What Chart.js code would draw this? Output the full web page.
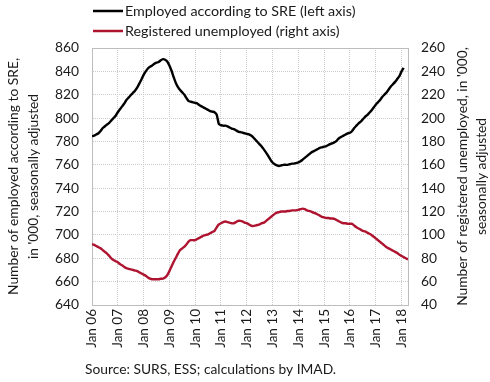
<!DOCTYPE html>
<html>
<head>
<meta charset="utf-8">
<script src="https://cdn.jsdelivr.net/npm/chart.js@4.4.1/dist/chart.umd.min.js"></script>
<style>
html,body{margin:0;padding:0;background:#fff;}
#wrap{width:490px;height:382px;position:relative;}
</style>
</head>
<body>
<div id="wrap"><canvas id="c" width="490" height="382"></canvas></div>
<script>
// Tick labels for x axis (each January)
const yearLabels = ["Jan 06","Jan 07","Jan 08","Jan 09","Jan 10","Jan 11","Jan 12","Jan 13","Jan 14","Jan 15","Jan 16","Jan 17","Jan 18"];
// Employed according to SRE, '000, monthly from Jan 2006 (left axis)
const employed = [
  784.5,785,786,787,789,791.5,793,794.5,796,798,800,802,
  805,807.5,810,812.5,815.5,817.5,819.5,821.5,823.5,826,829.5,833,
  837,840,842.5,844,845,846.5,847.5,848,849.5,850.5,850,848.5,
  845,840.5,835,830,826.5,824,822,820,817,814.5,814,813.5,
  813,812.5,811,810,809,808,807,806,805.5,805,803,795,
  794,793.5,793.5,793,792,791,790.5,789.5,788.5,788,787.5,787,
  786.5,786,785,783.5,781.5,779.5,777.5,775.5,773,770.5,767.5,764.5,
  762,760.5,759.5,759,759.5,760,760,760,760.5,761,761,761.5,
  762,763,764.5,766,767.5,769,770.5,771.5,772.5,773.5,774.5,775,
  775.5,776,777,778,778.5,779.5,781,783,784,785,786,787,
  787.5,789,791.5,793.5,795.5,797,799,801,802.5,804.5,806.5,809,
  811.5,813.5,815.5,818,820,822,824.5,827,829,831,833.5,836,
  840,843
];
// Registered unemployed, '000, monthly from Jan 2006 (right axis)
const unemployed = [
  92,91.5,90.5,89.5,88.5,87,85.5,84,82,80,78.5,77.5,
  76.5,75,74,72.5,71.5,71,70.5,70,69.5,69,68,67,
  66,65,63.5,62.5,62,62,62,62,62.5,62.5,63.5,65.5,
  69,73,77,80.5,84,87,88.5,90,92,94.5,95.5,95.5,
  95.5,96.5,97.5,98.5,99.5,100,100.5,101.5,102.5,103.5,106.5,109,
  110,111,111.5,111,110.5,110,110,111,112,112,111.5,110.5,
  110,109,108,107.5,108,108.5,109,110,110.5,112,113.5,115,
  116.5,118,119,119.5,120,120,120,120.5,120.5,121,121,121,
  121.5,122,122.5,122,121,120.5,120,119,118.5,117.5,116.5,115.5,
  115,114.5,114.5,114,114,113.5,112.5,111.5,110.5,110,110,109.5,
  109.5,109.5,108,106.5,105.5,104.5,103.5,103,102,101,100,98.5,
  97,95.5,94,92.5,91,89.5,88.5,87.5,86.5,85.5,84.5,83,
  82,81,80,79
];
const seriesNames = ["Employed according to SRE (left axis)","Registered unemployed (right axis)"];
const leftTitle = ["Number of employed according to SRE,","in '000, seasonally adjusted"];
const rightTitle = ["Number of registered unemployed, in '000,","seasonally adjusted"];
const sourceText = "Source: SURS, ESS; calculations by IMAD.";

const FONT = "Lato, 'Open Sans', sans-serif";
const RED = '#ae1430';
const GRID = '#cccccc';
const BORDER = '#bdbdbd';

const toPts = arr => arr.map((v,i)=>({x:i,y:v}));

const decor = {
  id:'decor',
  afterDatasetsDraw(chart){
    const {ctx, chartArea:a} = chart;
    ctx.save();
    ctx.strokeStyle = BORDER; ctx.lineWidth = 1;
    ctx.beginPath(); ctx.moveTo(a.left, a.top+0.5); ctx.lineTo(a.right, a.top+0.5); ctx.stroke();
    ctx.restore();
  },
  afterDraw(chart){
    const {ctx, chartArea:a} = chart;
    ctx.save();
    ctx.fillStyle = '#1a1a1a';
    ctx.textBaseline = 'middle';
    // legend
    ctx.font = "14.3px " + FONT;
    const lg = [[seriesNames[0],'#000',11],[seriesNames[1],RED,31]];
    lg.forEach(([t,c,y])=>{
      ctx.strokeStyle = c; ctx.lineWidth = 2.5;
      ctx.beginPath(); ctx.moveTo(93,y); ctx.lineTo(123,y); ctx.stroke();
      ctx.fillStyle = '#1a1a1a'; ctx.textAlign='left';
      ctx.fillText(t,125,y);
    });
    // axis titles
    ctx.font = "13.8px " + FONT;
    const cy = (a.top+a.bottom)/2;
    const drawV = (lines,xs)=>{
      lines.forEach((t,i)=>{
        ctx.save(); ctx.translate(xs[i],cy); ctx.rotate(-Math.PI/2);
        ctx.textAlign='center'; ctx.fillText(t,0,0); ctx.restore();
      });
    };
    drawV(leftTitle,[14,34]);
    drawV(rightTitle,[463,482]);
    // source
    ctx.font = "13.8px " + FONT;
    ctx.textAlign='left';
    ctx.fillText(sourceText,85,370);
    ctx.restore();
  }
};

new Chart(document.getElementById('c'),{
  type:'line',
  data:{
    datasets:[
      {label:seriesNames[0],data:toPts(employed),yAxisID:'yL',borderColor:'#000',borderWidth:2.4,pointRadius:0,tension:0.2,fill:false},
      {label:seriesNames[1],data:toPts(unemployed),yAxisID:'yR',borderColor:RED,borderWidth:2.4,pointRadius:0,tension:0.2,fill:false}
    ]
  },
  options:{
    responsive:false,
    animation:false,
    layout:{padding:{top:48,left:0,right:0,bottom:0}},
    plugins:{legend:{display:false},tooltip:{enabled:false}},
    scales:{
      x:{
        type:'linear',min:0,max:147,
        afterFit(s){s.height=77;},
        ticks:{stepSize:12,includeBounds:false,autoSkip:false,maxRotation:90,minRotation:90,padding:4,
          color:'#1a1a1a',font:{family:FONT,size:13.5},
          callback:(v)=>yearLabels[v/12]},
        grid:{color:GRID,lineWidth:1,drawTicks:false},
        border:{display:true,color:BORDER,dash:[1,1]}
      },
      yL:{
        position:'left',min:640,max:860,
        afterFit(s){s.width=92;},
        ticks:{stepSize:20,padding:13,color:'#1a1a1a',font:{family:FONT,size:13.8}},
        grid:{color:GRID,lineWidth:1,drawTicks:false},
        border:{display:true,color:BORDER,dash:[1,1]}
      },
      yR:{
        position:'right',min:40,max:260,
        afterFit(s){s.width=82;},
        ticks:{stepSize:20,padding:13,color:'#1a1a1a',font:{family:FONT,size:13.8}},
        grid:{display:false,drawTicks:false},
        border:{display:true,color:BORDER}
      }
    }
  },
  plugins:[decor]
});
</script>
</body>
</html>
